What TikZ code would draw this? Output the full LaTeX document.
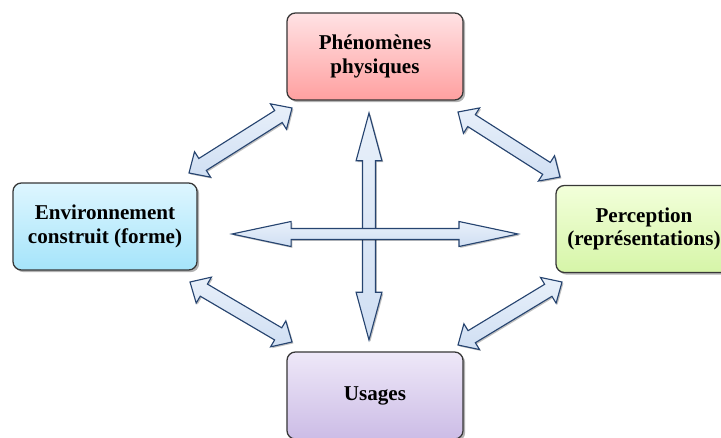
\documentclass[tikz,border=0pt]{standalone}
\usepackage{fontspec}
\setmainfont{Liberation Serif}
\usetikzlibrary{calc, shadows}

\definecolor{boxline}{RGB}{55,55,55}
\definecolor{arrowline}{RGB}{38,68,112}
\definecolor{arrowfill}{RGB}{208,223,243}
\definecolor{arrowlight}{RGB}{232,240,250}

% double arrow between two named points: shaft half width, head half width, head length
\newcommand{\dblarrow}[5]{%
  \path ($(#1)!#5!(#2)$) coordinate (h1) ($(#2)!#5!(#1)$) coordinate (h2);
  \draw[bigarrow] (#1) -- ($(h1)!#4!90:(#2)$) -- ($(h1)!#3!90:(#2)$)
    -- ($(h2)!#3!-90:(#1)$) -- ($(h2)!#4!-90:(#1)$) -- (#2)
    -- ($(h2)!#4!90:(#1)$) -- ($(h2)!#3!90:(#1)$)
    -- ($(h1)!#3!-90:(#2)$) -- ($(h1)!#4!-90:(#2)$) -- cycle;
}

\tikzset{
  box/.style={draw=boxline, line width=0.9pt, rounded corners=6pt,
    minimum width=4.4cm, minimum height=2.175cm, align=center,
    font=\fontsize{15}{16.5}\selectfont\bfseries,
    drop shadow={shadow xshift=1.5pt, shadow yshift=-1.5pt, opacity=0.3, fill=black}},
  bigarrow/.style={draw=arrowline, line width=0.8pt, line join=miter,
    top color=arrowlight, bottom color=arrowfill,
    drop shadow={shadow xshift=1pt, shadow yshift=-1pt, opacity=0.25, fill=black}}
}

\begin{document}
\begin{tikzpicture}[x=0.025cm, y=-0.025cm]
    \useasboundingbox (0,0) rectangle (721,438);

    % central cross
    \coordinate (vtop) at (369,113);
    \coordinate (vbot) at (369,340);
    \coordinate (hleft) at (232,234);
    \coordinate (hright) at (518,234);
    \dblarrow{vtop}{vbot}{4.6pt}{9.2pt}{34pt}
    \dblarrow{hleft}{hright}{3.9pt}{8.9pt}{42pt}

    % diagonal links
    \coordinate (tl1) at (189,173);
    \coordinate (tl2) at (292,108);
    \coordinate (tr1) at (458,112);
    \coordinate (tr2) at (560,177);
    \coordinate (bl1) at (190,282);
    \coordinate (bl2) at (292,342);
    \coordinate (br1) at (562,282);
    \coordinate (br2) at (458,345);
    \dblarrow{tl1}{tl2}{5pt}{10.7pt}{11.4pt}
    \dblarrow{tr1}{tr2}{5pt}{10.7pt}{11.4pt}
    \dblarrow{bl1}{bl2}{5pt}{10.7pt}{11.4pt}
    \dblarrow{br1}{br2}{5pt}{10.7pt}{11.4pt}

    % the four boxes
    \node[box, top color={rgb,255:red,255;green,226;blue,228}, bottom color={rgb,255:red,255;green,160;blue,160}]
      (phen) at (375,56.5) {Phénomènes\\physiques};
    \node[box, minimum width=4.6cm, top color={rgb,255:red,222;green,246;blue,255}, bottom color={rgb,255:red,165;green,228;blue,250}]
      (envi) at (105,226.5) {Environnement\\construit (forme)};
    \node[box, top color={rgb,255:red,242;green,255;blue,218}, bottom color={rgb,255:red,214;green,245;blue,168}]
      (perc) at (644,229) {Perception\\(représentations)};
    \node[box, top color={rgb,255:red,238;green,232;blue,248}, bottom color={rgb,255:red,204;green,188;blue,230}]
      (usag) at (375,395.5) {Usages};
\end{tikzpicture}
\end{document}
